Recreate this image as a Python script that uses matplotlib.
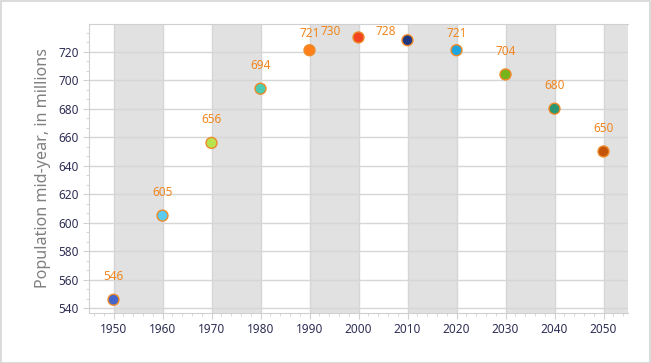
import matplotlib.pyplot as plt
import matplotlib.patches as mpatches
from matplotlib.ticker import MultipleLocator, AutoMinorLocator

years = [1950, 1960, 1970, 1980, 1990, 2000, 2010, 2020, 2030, 2040, 2050]
population = [546, 605, 656, 694, 721, 730, 728, 721, 704, 680, 650]
point_colors = ['#4466cc', '#5bcbef', '#b7e34f', '#4ccbb0', '#ff7f1a',
                '#f2441e', '#1f3680', '#1ea6e0', '#77b41c', '#2a9672', '#c45508']

# label offsets in points (some shifted to avoid overlap at the top)
label_offsets = {1990: (0, 12), 2000: (-20, 4), 2010: (-16, 6), 2020: (0, 12)}

plt.rcParams['font.family'] = ['Noto Sans', 'DejaVu Sans']

fig = plt.figure(figsize=(6.51, 3.63), dpi=100)
fig.patches.append(mpatches.Rectangle((0.5 / 651, 0.5 / 363), 649.5 / 651, 361.5 / 363,
                                      transform=fig.transFigure, fill=False,
                                      edgecolor='#d4d4d4', linewidth=1.2))
ax = fig.add_axes([89 / 651, (363 - 313) / 363, (628 - 89) / 651, (313 - 24) / 363])

ax.set_xlim(1945, 2055)
ax.set_ylim(536.7, 739.4)

for start in range(1950, 2055, 20):
    ax.axvspan(start, min(start + 10, 2055), color='#e1e1e1', zorder=0, lw=0)

ax.xaxis.set_major_locator(MultipleLocator(10))
ax.xaxis.set_minor_locator(MultipleLocator(2))
ax.yaxis.set_major_locator(MultipleLocator(20))
ax.yaxis.set_minor_locator(AutoMinorLocator(3))
ax.grid(True, which='major', color='#d6d6d6', linewidth=1.0, zorder=1)
ax.set_axisbelow(True)

for side in ['left', 'bottom', 'top', 'right']:
    ax.spines[side].set_color('#d0d0d0')
ax.spines['right'].set_visible(False)

ax.tick_params(axis='both', which='major', colors='#d0d0d0', labelcolor='#2e2e55',
               labelsize=8.5, length=4)
ax.tick_params(axis='both', which='minor', colors='#d0d0d0', length=2)

ax.scatter(years, population, s=62, c=point_colors, edgecolors='#ee8a28',
           linewidths=1.0, zorder=3)

for yr, val in zip(years, population):
    dx, dy = label_offsets.get(yr, (0, 16.5))
    ax.annotate(str(val), (yr, val), xytext=(dx, dy), textcoords='offset points',
                ha='center', va='center', fontsize=8.5, color='#f0861e', zorder=4)

ax.set_ylabel('Population mid-year, in millions', color='#808080', fontsize=11.6,
              labelpad=5)

fig.savefig('out.png', dpi=100)
